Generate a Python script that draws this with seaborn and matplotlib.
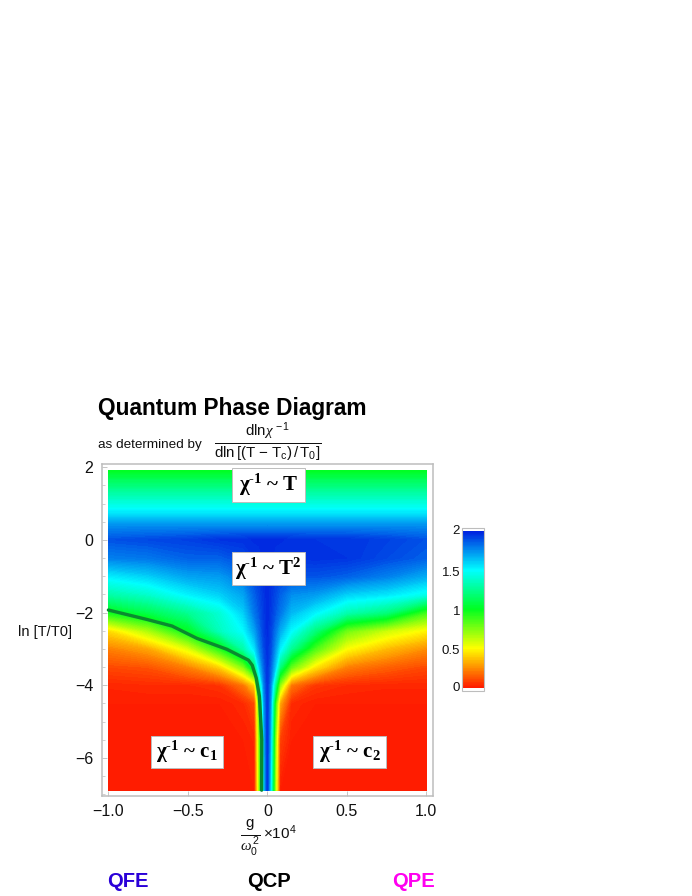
import numpy as np
import matplotlib
matplotlib.use('Agg')
import matplotlib.pyplot as plt
from matplotlib.patches import Rectangle
import seaborn as sns

W, H = 692, 896

# values
g_grid = [-1, -0.75, -0.5, -0.3, -0.15, -0.08, -0.05, -0.02, 0, 0.02, 0.05, 0.08, 0.15, 0.3, 0.5, 0.75, 1]
lnT_grid = [-6.89, -5.5, -4.5, -4, -3.5, -3, -2.5, -2, -1.5, -1, -0.5, 0, 0.4, 0.83, 1.4, 1.9]
exponent = [
    [0, 0, 0, 0, 0, 0, .7, 1.6, 1.95, 1.55, .65, 0, 0, 0, 0, 0, 0],
    [0, 0, 0, 0, 0, .02, .75, 1.65, 1.95, 1.65, .72, .08, 0, 0, 0, 0, 0],
    [0, 0, 0, 0, .03, .1, .85, 1.72, 1.95, 1.72, .9, .3, .03, 0, 0, 0, 0],
    [.02, .03, .03, .05, .2, .4, 1.25, 1.78, 1.95, 1.78, 1.25, .7, .2, .06, .03, .02, .02],
    [.1, .12, .22, .4, .75, 1.15, 1.6, 1.85, 1.95, 1.85, 1.6, 1.2, .8, .45, .22, .15, .1],
    [.22, .3, .55, .92, 1.3, 1.55, 1.75, 1.9, 1.96, 1.9, 1.72, 1.52, 1.25, .85, .5, .35, .25],
    [.42, .66, 1.0, 1.35, 1.5, 1.7, 1.82, 1.93, 1.97, 1.92, 1.8, 1.68, 1.5, 1.2, .78, .6, .48],
    [.97, 1.1, 1.25, 1.4, 1.6, 1.8, 1.87, 1.94, 1.98, 1.94, 1.87, 1.8, 1.65, 1.52, 1.32, 1.2, .87],
    [1.3, 1.38, 1.52, 1.6, 1.7, 1.85, 1.9, 1.95, 1.98, 1.95, 1.9, 1.85, 1.75, 1.72, 1.6, 1.55, 1.45],
    [1.53, 1.6, 1.7, 1.72, 1.8, 1.9, 1.93, 1.96, 1.98, 1.96, 1.93, 1.9, 1.88, 1.88, 1.85, 1.78, 1.68],
    [1.78, 1.8, 1.85, 1.85, 1.9, 1.95, 1.96, 1.97, 1.98, 1.97, 1.96, 1.95, 1.95, 1.96, 1.95, 1.9, 1.85],
    [1.88, 1.9, 1.92, 1.95, 1.96, 1.97, 1.97, 1.97, 1.98, 1.97, 1.97, 1.97, 1.96, 1.95, 1.95, 1.92, 1.88],
    [1.74] * 17,
    [1.5] * 17,
    [1.24] * 17,
    [1.0] * 17,
]

# crossover line, exponent = 1
line_g = [-1.0, -0.757, -0.6, -0.443, -0.255, -0.119, -0.095, -0.07, -0.05, -0.035, -0.036]
line_lnT = [-1.93, -2.19, -2.37, -2.71, -3.01, -3.31, -3.45, -3.8, -4.3, -5.5, -6.89]

x_ticks = [-1.0, -0.5, 0, 0.5, 1.0]
x_labels = ['\u22121.0', '\u22120.5', '0', '0.5', '1.0']
y_ticks = [-6, -4, -2, 0, 2]
y_labels = ['\u22126', '\u22124', '\u22122', '0', '2']
cbar_ticks = [0, 0.5, 1, 1.5, 2]
cbar_labels = ['0', '0.5', '1', '1.5', '2']
colour_stops = ['#ff1c00', '#ffff00', '#00ff20', '#00ffff', '#0020e0']

sns.set_theme(style='white')
plt.rcParams['font.family'] = ['Liberation Sans', 'DejaVu Sans']
plt.rcParams['mathtext.fontset'] = 'custom'
plt.rcParams['mathtext.rm'] = 'Liberation Sans'
plt.rcParams['mathtext.it'] = 'Liberation Serif:italic'
plt.rcParams['mathtext.bf'] = 'Liberation Serif:bold'
plt.rcParams['mathtext.default'] = 'regular'

cmap = sns.blend_palette(colour_stops, n_colors=256, as_cmap=True)
frame = '#bdbdbd'


def fx(px):
    return px / W


def fy(py):
    return 1 - py / H


def rect_axes(fig, left, top, right, bottom):
    return fig.add_axes([fx(left), fy(bottom), (right - left) / W, (bottom - top) / H])


fig = plt.figure(figsize=(W / 100, H / 100), dpi=100)

# main panel
ax = rect_axes(fig, 101.7, 464, 433, 796)
ax.contourf(g_grid, lnT_grid, np.array(exponent), levels=np.linspace(0, 2, 121), cmap=cmap, vmin=0, vmax=2, extend='both')
sns.lineplot(x=line_g, y=line_lnT, sort=False, estimator=None, color='#0a8a30', linewidth=2.4, ax=ax, legend=False)
ax.set_xlim(-1.042, 1.042)
ax.set_ylim(-7.05, 2.09)
ax.set_xticks(x_ticks, x_labels)
ax.set_yticks(y_ticks, y_labels)
ax.set_yticks(np.arange(-7, 2.1, 0.5), minor=True)
ax.tick_params(axis='both', which='major', direction='in', length=3.5, width=0.6, color=frame, labelsize=11.5, pad=6, labelcolor='#111111', left=True, bottom=True)
ax.tick_params(axis='both', which='minor', direction='in', length=2, width=0.5, color=frame, left=True, bottom=False)
for s in ax.spines.values():
    s.set_color(frame)
    s.set_linewidth(1.1)
ax.set_xlabel('')
ax.set_ylabel('')

# region labels
boxes = [
    (232, 468, 305, 502, '\u03c7$^{\u20101}$ ~ T'),
    (232, 552, 305, 585, '\u03c7$^{\u20101}$ ~ T$^{2}$'),
    (151, 736, 223, 768, '\u03c7$^{\u20101}$ ~ c$_{1}$'),
    (313, 736, 386, 768, '\u03c7$^{\u20101}$ ~ c$_{2}$'),
]
for l, t, r, b, label in boxes:
    fig.add_artist(Rectangle((fx(l), fy(b)), (r - l) / W, (b - t) / H, transform=fig.transFigure,
                             facecolor='white', edgecolor=frame, linewidth=0.7, zorder=5))
    fig.text(fx((l + r) / 2), fy((t + b) / 2), label, ha='center', va='center', fontsize=15,
             family='Liberation Serif', fontweight='bold', color='black', zorder=6)

# colour scale
cax = rect_axes(fig, 461.7, 528, 484.3, 691)
scale = np.linspace(2, 0, 200).reshape(-1, 1)
sns.heatmap(scale, ax=cax, cmap=cmap, vmin=0, vmax=2, cbar=False, xticklabels=False, yticklabels=False)
cax.set_position([fx(461.7), fy(688), 22.6 / W, 157.3 / H])
cax.patch.set_visible(False)
fig.add_artist(Rectangle((fx(461.7), fy(691)), 22.6 / W, 163 / H, transform=fig.transFigure,
                         facecolor='none', edgecolor=frame, linewidth=0.8, zorder=4))
cbar_pos = [687.7, 651, 611.7, 573, 530.7]
for v, py, label in zip(cbar_ticks, cbar_pos, cbar_labels):
    fig.text(fx(460), fy(py), label, ha='right', va='center', fontsize=9.5, color='#111111')

# text
fig.text(fx(98), fy(408), 'Quantum Phase Diagram', fontsize=16.3, fontweight='bold', color='black', ha='left', va='center')
fig.text(fx(98), fy(444.5), 'as determined by', fontsize=9.7, color='#111111', ha='left', va='center')
fig.text(fx(268), fy(441.5), r'$\frac{dln\mathit{\chi}^{\,-1}}{dln\,[(T\,-\,T_{c})\,/\,T_{0}]}$', fontsize=15.6, color='#111111', ha='center', va='center')
fig.text(fx(18), fy(632), 'ln [T/T0]', fontsize=10.5, color='#111111', ha='left', va='center')
fig.text(fx(250.5), fy(838), r'$\frac{g}{\mathit{\omega}_{0}^{\,2}}$', fontsize=15.5, color='#111111', ha='center', va='center')
fig.text(fx(263), fy(833), '\u00d710$^{4}$', fontsize=11, color='#111111', ha='left', va='center')

fig.text(fx(127.5), fy(881), 'QFE', fontsize=14.5, fontweight='bold', color='#2a00d8', ha='center', va='center')
fig.text(fx(268.5), fy(881), 'QCP', fontsize=14.5, fontweight='bold', color='black', ha='center', va='center')
fig.text(fx(413), fy(881), 'QPE', fontsize=14.5, fontweight='bold', color='#ff00f0', ha='center', va='center')

fig.savefig('out.png', dpi=100, facecolor='white')
